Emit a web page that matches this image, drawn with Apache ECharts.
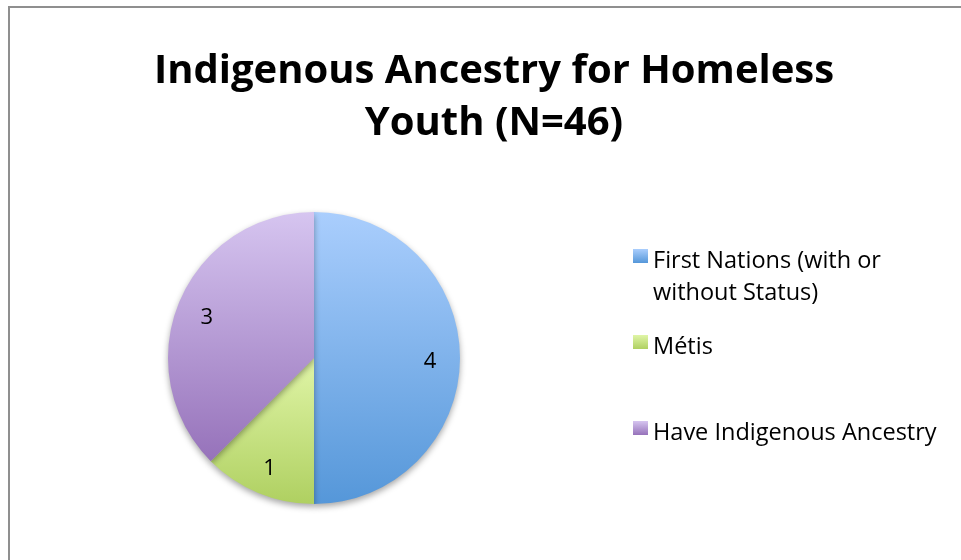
<!DOCTYPE html>
<html>
<head>
<meta charset="utf-8">
<script src="https://cdn.jsdelivr.net/npm/echarts@6/dist/echarts.min.js"></script>
<style>
html,body{margin:0;padding:0;background:#fff;}
#main{width:961px;height:560px;}
</style>
</head>
<body>
<div id="main"></div>
<script>
const titleText = 'Indigenous Ancestry for Homeless\nYouth (N=46)';
const categories = ['First Nations (with or\nwithout Status)', 'Métis', 'Have Indigenous Ancestry'];
const values = [4, 1, 3];
const gradientStops = [
  ['#aacefd', '#5597d9'],
  ['#e0f5a7', '#afd061'],
  ['#d6c5f0', '#9672ba']
];

function grad(stops, endAt) {
  return new echarts.graphic.LinearGradient(0, 0, 0, 1, [
    {offset: 0, color: stops[0]},
    {offset: endAt, color: stops[1]},
    {offset: 1, color: stops[1]}
  ]);
}

const chart = echarts.init(document.getElementById('main'), null, {renderer: 'canvas'});
const font = '"Open Sans", Lato, sans-serif';

const pieData = categories.map((c, i) => ({
  name: c, value: values[i],
  itemStyle: {color: grad(gradientStops[i], 1)}
}));
const labelData = categories.map((c, i) => ({name: c, value: values[i]}));

// square marker at the top of a taller (invisible) icon box
function markerIcon(h) {
  return 'path://M0,0h15v14h-15zM0,' + h + 'h0.01v0.01z';
}

function legendFor(i, top, h) {
  return {
    show: true,
    left: 633,
    top: top,
    padding: 0,
    orient: 'vertical',
    selectedMode: false,
    itemWidth: 15,
    itemHeight: h,
    itemGap: 0,
    icon: markerIcon(h),
    data: [{name: categories[i], itemStyle: {color: grad(gradientStops[i], 14 / h)}}],
    textStyle: {fontFamily: font, fontSize: 23.5, color: '#000', lineHeight: 32}
  };
}

chart.setOption({
  backgroundColor: '#fff',
  animation: false,
  title: {
    text: titleText,
    left: 489,
    top: 41,
    textAlign: 'center',
    textStyle: {fontFamily: font, fontWeight: 'bold', fontSize: 40, lineHeight: 52, color: '#000'}
  },
  legend: [
    legendFor(0, 245, 56),
    legendFor(1, 331, 24),
    legendFor(2, 417, 24)
  ],
  graphic: [{
    type: 'rect',
    shape: {x: 9, y: 7, width: 1000, height: 600},
    style: {fill: 'none', stroke: '#8f8f8f', lineWidth: 2},
    silent: true
  }],
  series: [
    {
      type: 'pie',
      center: [314, 358],
      radius: 146,
      startAngle: 90,
      clockwise: true,
      silent: true,
      label: {show: false},
      labelLine: {show: false},
      emphasis: {disabled: true},
      itemStyle: {shadowBlur: 6, shadowOffsetY: 3, shadowColor: 'rgba(0,0,0,0.35)'},
      data: pieData
    },
    {
      type: 'pie',
      center: [314, 358],
      radius: [80, 146],
      startAngle: 90,
      clockwise: true,
      silent: true,
      legendHoverLink: false,
      emphasis: {disabled: true},
      itemStyle: {color: 'rgba(0,0,0,0)'},
      label: {show: true, position: 'inside', formatter: '{c}', fontFamily: font, fontSize: 22, color: '#000', offset: [0, 4]},
      labelLine: {show: false},
      data: labelData
    }
  ]
});
</script>
</body>
</html>
